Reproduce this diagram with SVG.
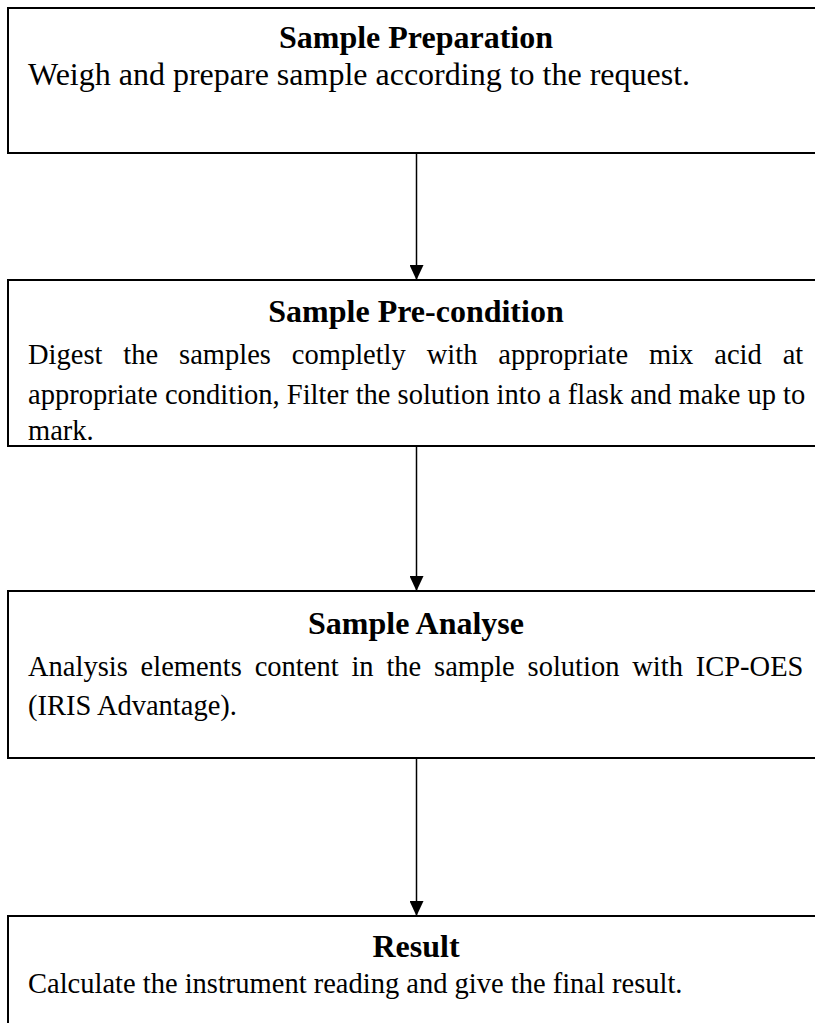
<svg xmlns="http://www.w3.org/2000/svg" width="815" height="1023" viewBox="0 0 815 1023">
<defs>
<style>
.box{fill:#fff;stroke:#000;stroke-width:2}
.t{font-family:"Liberation Serif","Times New Roman",serif;font-weight:bold;font-size:32px;text-anchor:middle;fill:#000}
.b{font-family:"Liberation Serif","Times New Roman",serif;font-size:28.5px;fill:#000}
.b1{font-family:"Liberation Serif","Times New Roman",serif;font-size:32px;fill:#000}
.c{stroke:#000;stroke-width:1.5;fill:none}
</style>
<marker id="ah" markerWidth="15" markerHeight="14" refX="15" refY="7" orient="auto" markerUnits="userSpaceOnUse">
<path d="M0,0 L15,7 L0,14 Z" fill="#000"/>
</marker>
</defs>
<rect width="815" height="1023" fill="#fff"/>
<g id="connectors">
<line class="c" x1="416.5" y1="153" x2="416.5" y2="280" marker-end="url(#ah)"/>
<line class="c" x1="416.5" y1="446" x2="416.5" y2="591" marker-end="url(#ah)"/>
<line class="c" x1="416.5" y1="758" x2="416.5" y2="916" marker-end="url(#ah)"/>
</g>
<g id="prep">
<rect class="box" x="8" y="8" width="820" height="145"/>
<text class="t" x="416" y="48">Sample Preparation</text>
<text class="b1" x="28" y="85">Weigh and prepare sample according to the request.</text>
</g>
<g id="precondition">
<rect class="box" x="8" y="280" width="820" height="166"/>
<text class="t" x="416" y="322">Sample Pre-condition</text>
<text class="b" x="28" y="364" word-spacing="13.8">Digest the samples completly with appropriate mix acid at</text>
<text class="b" x="28" y="404">appropriate condition, Filter the solution into a flask and make up to</text>
<text class="b" x="28" y="440">mark.</text>
</g>
<g id="analyse">
<rect class="box" x="8" y="591" width="820" height="167"/>
<text class="t" x="416" y="634">Sample Analyse</text>
<text class="b" x="28" y="676" word-spacing="5.7">Analysis elements content in the sample solution with ICP-OES</text>
<text class="b" x="28" y="715">(IRIS Advantage).</text>
</g>
<g id="result">
<rect class="box" x="8" y="916" width="820" height="120"/>
<text class="t" x="416" y="957">Result</text>
<text class="b" x="28" y="993">Calculate the instrument reading and give the final result.</text>
</g>
</svg>
